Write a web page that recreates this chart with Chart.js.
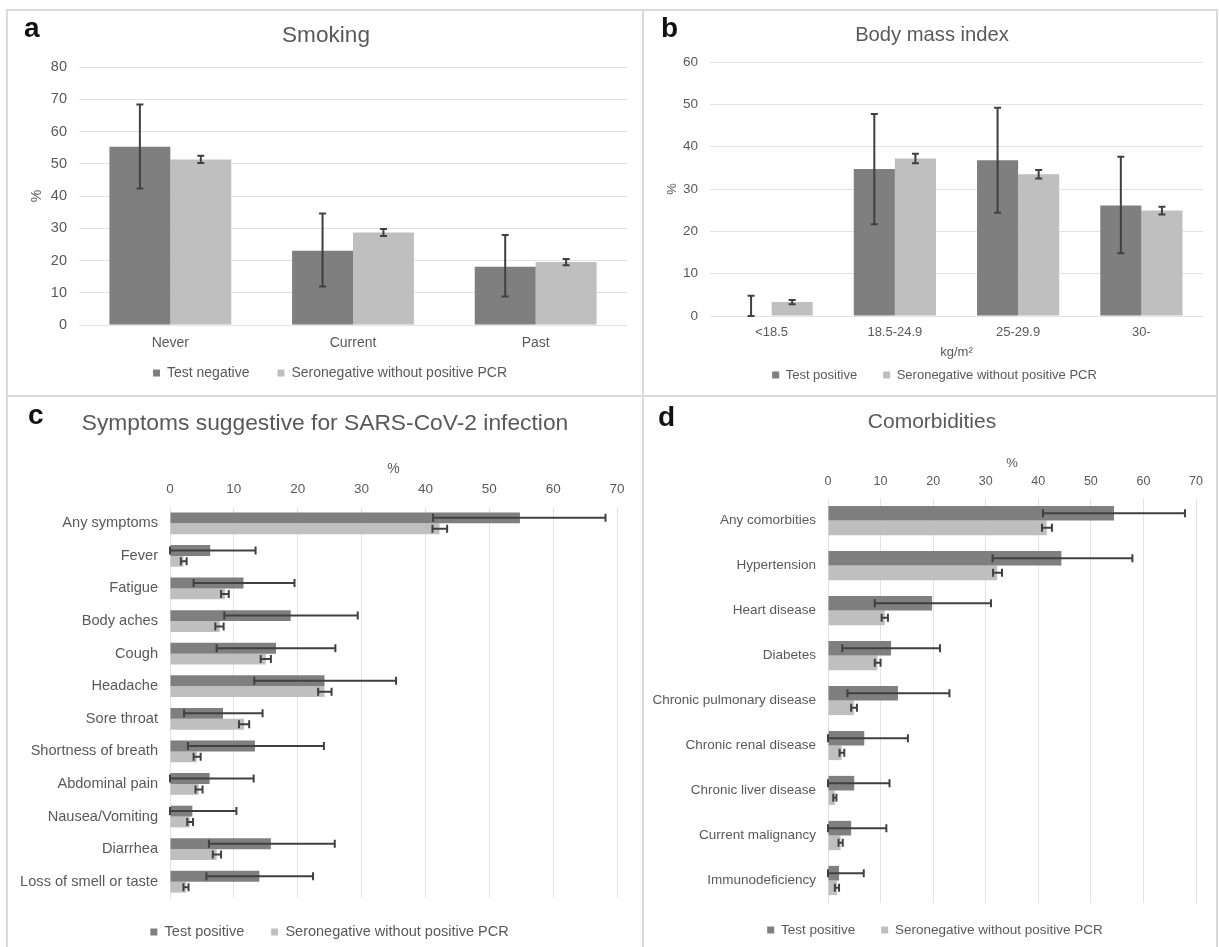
<!DOCTYPE html>
<html>
<head>
<meta charset="utf-8">
<script src="https://cdn.jsdelivr.net/npm/chart.js@4.4.1/dist/chart.umd.min.js"></script>
<style>
html,body{margin:0;padding:0;background:#fff;width:1219px;height:947px;overflow:hidden;position:relative;font-family:"Liberation Sans",Arial,sans-serif;}
canvas{position:absolute;}
.line{position:absolute;background:#dadada;}
.lab{position:absolute;font-weight:bold;color:#111;font-size:28px;line-height:28px;}
.ttl{position:absolute;color:#595959;white-space:nowrap;transform:translateX(-50%);}
</style>
</head>
<body>
<canvas id="cA" width="636" height="386" style="left:7px;top:10px;"></canvas>
<canvas id="cB" width="576" height="386" style="left:643px;top:10px;"></canvas>
<canvas id="cC" width="636" height="570" style="left:7px;top:396px;"></canvas>
<canvas id="cD" width="576" height="570" style="left:643px;top:396px;"></canvas>

<div class="line" style="left:7px;top:9px;width:1211px;height:2px;"></div>
<div class="line" style="left:6px;top:9px;width:2px;height:940px;"></div>
<div class="line" style="left:1216px;top:9px;width:2px;height:940px;"></div>
<div class="line" style="left:642px;top:9px;width:2px;height:940px;"></div>
<div class="line" style="left:7px;top:395px;width:1211px;height:2px;"></div>

<div class="lab" style="left:24px;top:14px;">a</div>
<div class="lab" style="left:661px;top:14px;">b</div>
<div class="lab" style="left:28px;top:401px;">c</div>
<div class="lab" style="left:658px;top:403px;">d</div>

<div class="ttl" style="left:326px;top:24px;font-size:22.6px;line-height:22.6px;">Smoking</div>
<div class="ttl" style="left:932px;top:23.5px;font-size:20.2px;line-height:20.2px;">Body mass index</div>
<div class="ttl" style="left:325px;top:410.7px;font-size:22.8px;line-height:22.8px;">Symptoms suggestive for SARS-CoV-2 infection</div>
<div class="ttl" style="left:932px;top:410.2px;font-size:21px;line-height:21px;">Comorbidities</div>

<script>
// ---------- DATA ----------
const smokingCats = ['Never', 'Current', 'Past'];
const smokingNeg = [55.3, 23.0, 18.1];
const smokingNegLow = [42.3, 11.9, 8.8];
const smokingNegHigh = [68.4, 34.6, 27.9];
const smokingSero = [51.3, 28.7, 19.5];
const smokingSeroLow = [50.2, 27.6, 18.5];
const smokingSeroHigh = [52.5, 29.8, 20.5];

const bmiCats = ['<18.5', '18.5-24.9', '25-29.9', '30-'];
const bmiPos = [0, 34.7, 36.8, 26.1];
const bmiPosLow = [0, 21.7, 24.4, 14.8];
const bmiPosHigh = [4.8, 47.7, 49.2, 37.6];
const bmiSero = [3.3, 37.2, 33.5, 24.9];
const bmiSeroLow = [2.8, 36.1, 32.5, 24.0];
const bmiSeroHigh = [3.8, 38.3, 34.5, 25.8];

const symptomCats = ['Any symptoms', 'Fever', 'Fatigue', 'Body aches', 'Cough', 'Headache', 'Sore throat',
  'Shortness of breath', 'Abdominal pain', 'Nausea/Vomiting', 'Diarrhea', 'Loss of smell or taste'];
const symptomPos = [54.8, 6.3, 11.5, 18.9, 16.6, 24.2, 8.3, 13.3, 6.2, 3.5, 15.8, 14.0];
const symptomPosLow = [41.2, 0, 3.7, 8.5, 7.3, 13.2, 2.2, 2.8, 0, 0, 6.1, 5.7];
const symptomPosHigh = [68.2, 13.4, 19.5, 29.4, 25.9, 35.4, 14.5, 24.1, 13.1, 10.4, 25.8, 22.4];
const symptomSero = [42.2, 2.1, 8.6, 7.8, 15.0, 24.2, 11.6, 4.2, 4.5, 3.1, 7.3, 2.5];
const symptomSeroLow = [41.1, 1.7, 8.0, 7.1, 14.2, 23.2, 10.8, 3.7, 4.0, 2.7, 6.7, 2.1];
const symptomSeroHigh = [43.4, 2.6, 9.2, 8.4, 15.8, 25.3, 12.4, 4.8, 5.1, 3.6, 8.0, 2.9];

const comorbCats = ['Any comorbities', 'Hypertension', 'Heart disease', 'Diabetes', 'Chronic pulmonary disease',
  'Chronic renal disease', 'Chronic liver disease', 'Current malignancy', 'Immunodeficiency'];
const comorbPos = [54.4, 44.4, 19.8, 12.0, 13.3, 6.9, 5.0, 4.4, 2.1];
const comorbPosLow = [40.9, 31.3, 8.9, 2.7, 3.7, 0, 0, 0, 0];
const comorbPosHigh = [67.9, 57.9, 31.0, 21.3, 23.1, 15.2, 11.7, 11.1, 6.8];
const comorbSero = [41.6, 32.2, 10.8, 9.4, 4.9, 2.6, 1.3, 2.4, 1.7];
const comorbSeroLow = [40.7, 31.4, 10.2, 8.9, 4.4, 2.2, 1.0, 2.0, 1.3];
const comorbSeroHigh = [42.6, 33.1, 11.4, 10.0, 5.5, 3.1, 1.6, 2.8, 2.1];

// ---------- STYLE ----------
const DARK = '#7f7f7f', LIGHT = '#bfbfbf', GRID = '#e2e2e2', TXT = '#595959', ERR = '#404040';
Chart.defaults.font.family = '"Liberation Sans", Arial, sans-serif';
Chart.defaults.color = TXT;
Chart.defaults.animation = false;

const errorBarPlugin = {
  id: 'errorBars',
  afterDatasetsDraw(chart) {
    const ctx = chart.ctx;
    const horizontal = chart.options.indexAxis === 'y';
    const vScale = horizontal ? chart.scales.x : chart.scales.y;
    chart.data.datasets.forEach((ds, di) => {
      if (!ds.errLow) return;
      const meta = chart.getDatasetMeta(di);
      ctx.save();
      ctx.strokeStyle = ERR;
      ctx.lineWidth = 2;
      meta.data.forEach((bar, i) => {
        const lo = vScale.getPixelForValue(ds.errLow[i]);
        const hi = vScale.getPixelForValue(ds.errHigh[i]);
        ctx.beginPath();
        if (horizontal) {
          const c = bar.y, cap = 4;
          ctx.moveTo(lo, c); ctx.lineTo(hi, c);
          ctx.moveTo(lo, c - cap); ctx.lineTo(lo, c + cap);
          ctx.moveTo(hi, c - cap); ctx.lineTo(hi, c + cap);
        } else {
          const c = bar.x, cap = 3.5;
          ctx.moveTo(c, lo); ctx.lineTo(c, hi);
          ctx.moveTo(c - cap, lo); ctx.lineTo(c + cap, lo);
          ctx.moveTo(c - cap, hi); ctx.lineTo(c + cap, hi);
        }
        ctx.stroke();
      });
      ctx.restore();
    });
  }
};

// moves the legend box after layout so it can sit where the reference has it
const legendShiftPlugin = {
  id: 'legendShift',
  afterLayout(chart, args, opts) {
    const lg = chart.legend;
    if (!lg) return;
    const dx = opts.dx || 0, dy = opts.dy || 0;
    lg.left += dx; lg.right += dx; lg.top += dy; lg.bottom += dy;
  }
};

function legendOpts(size, pad, maxH) {
  const o = { position: 'bottom', labels: { boxWidth: 7, boxHeight: 7, padding: pad, color: TXT, font: { size: size } } };
  if (maxH) o.maxHeight = maxH;
  return o;
}
function ds(label, data, color, lo, hi) {
  return { label: label, data: data, backgroundColor: color, borderWidth: 0, errLow: lo, errHigh: hi };
}

// Panel a
new Chart(document.getElementById('cA'), {
  type: 'bar',
  data: { labels: smokingCats, datasets: [
    ds('Test negative', smokingNeg, DARK, smokingNegLow, smokingNegHigh),
    ds('Seronegative without positive PCR', smokingSero, LIGHT, smokingSeroLow, smokingSeroHigh)
  ]},
  options: {
    responsive: false, animation: false,
    layout: { padding: { left: 0, right: 16, top: 57, bottom: 0 } },
    datasets: { bar: { categoryPercentage: 0.667, barPercentage: 1 } },
    plugins: { legend: legendOpts(14, 28, 46), legendShift: { dx: 13, dy: -12 }, tooltip: { enabled: false } },
    scales: {
      x: { grid: { display: false, drawTicks: false }, border: { display: false },
           ticks: { padding: 9.6, font: { size: 14 } }, afterFit: s => { s.height = 25; } },
      y: { min: 0, max: 80, ticks: { stepSize: 10, padding: 12, font: { size: 14.5 } },
           grid: { color: GRID, drawTicks: false }, border: { display: false },
           title: { display: true, text: '%', font: { size: 14 }, padding: { top: 21.6, bottom: 0 } },
           afterFit: s => { s.width = 72; } }
    }
  },
  plugins: [errorBarPlugin, legendShiftPlugin]
});

// Panel b
new Chart(document.getElementById('cB'), {
  type: 'bar',
  data: { labels: bmiCats, datasets: [
    ds('Test positive', bmiPos, DARK, bmiPosLow, bmiPosHigh),
    ds('Seronegative without positive PCR', bmiSero, LIGHT, bmiSeroLow, bmiSeroHigh)
  ]},
  options: {
    responsive: false, animation: false,
    layout: { padding: { left: 0, right: 16, top: 52, bottom: 0 } },
    datasets: { bar: { categoryPercentage: 0.667, barPercentage: 1 } },
    plugins: { legend: legendOpts(13, 26), legendShift: { dx: 11.5, dy: -4.5 }, tooltip: { enabled: false } },
    scales: {
      x: { grid: { display: false, drawTicks: false }, border: { display: false },
           ticks: { padding: 8.2, font: { size: 13 } },
           title: { display: true, text: 'kg/m²', font: { size: 13 }, padding: { top: 0, bottom: -12.8 } },
           afterFit: s => { s.height = 31; } },
      y: { min: 0, max: 60, ticks: { stepSize: 10, padding: 12, font: { size: 13.5 } },
           grid: { color: GRID, drawTicks: false }, border: { display: false },
           title: { display: true, text: '%', font: { size: 13 }, padding: { top: 21.2, bottom: 0 } },
           afterFit: s => { s.width = 67; } }
    }
  },
  plugins: [errorBarPlugin, legendShiftPlugin]
});

// Panel c
new Chart(document.getElementById('cC'), {
  type: 'bar',
  data: { labels: symptomCats, datasets: [
    ds('Test positive', symptomPos, DARK, symptomPosLow, symptomPosHigh),
    ds('Seronegative without positive PCR', symptomSero, LIGHT, symptomSeroLow, symptomSeroHigh)
  ]},
  options: {
    indexAxis: 'y',
    responsive: false, animation: false,
    layout: { padding: { left: 0, right: 26, top: 50, bottom: 16.75 } },
    datasets: { bar: { categoryPercentage: 0.667, barPercentage: 1 } },
    plugins: { legend: legendOpts(14.5, 26.75), legendShift: { dx: 17.5, dy: 0 }, tooltip: { enabled: false } },
    scales: {
      x: { position: 'top', min: 0, max: 70,
           ticks: { stepSize: 10, padding: 9.9, font: { size: 13.5 } },
           grid: { color: GRID, drawTicks: false }, border: { display: false },
           title: { display: true, text: '%', font: { size: 14 }, padding: { top: 14.6, bottom: 0 } },
           afterFit: s => { s.height = 61; } },
      y: { grid: { display: false, drawTicks: false }, border: { display: false },
           ticks: { padding: 12, autoSkip: false, font: { size: 14.6 } },
           afterFit: s => { s.width = 163; } }
    }
  },
  plugins: [errorBarPlugin, legendShiftPlugin]
});

// Panel d
new Chart(document.getElementById('cD'), {
  type: 'bar',
  data: { labels: comorbCats, datasets: [
    ds('Test positive', comorbPos, DARK, comorbPosLow, comorbPosHigh),
    ds('Seronegative without positive PCR', comorbSero, LIGHT, comorbSeroLow, comorbSeroHigh)
  ]},
  options: {
    indexAxis: 'y',
    responsive: false, animation: false,
    layout: { padding: { left: 0, right: 23, top: 40, bottom: 13.5 } },
    datasets: { bar: { categoryPercentage: 0.65, barPercentage: 1 } },
    plugins: { legend: legendOpts(13.5, 26), legendShift: { dx: 15.5, dy: -5.75 }, tooltip: { enabled: false } },
    scales: {
      x: { position: 'top', min: 0, max: 70,
           ticks: { stepSize: 10, padding: 8.5, font: { size: 12.5 } },
           grid: { color: GRID, drawTicks: false }, border: { display: false },
           title: { display: true, text: '%', font: { size: 13 }, padding: { top: 19.2, bottom: 0 } },
           afterFit: s => { s.height = 62; } },
      y: { grid: { display: false, drawTicks: false }, border: { display: false },
           ticks: { padding: 12, autoSkip: false, font: { size: 13.5 } },
           afterFit: s => { s.width = 185; } }
    }
  },
  plugins: [errorBarPlugin, legendShiftPlugin]
});
</script>
</body>
</html>
